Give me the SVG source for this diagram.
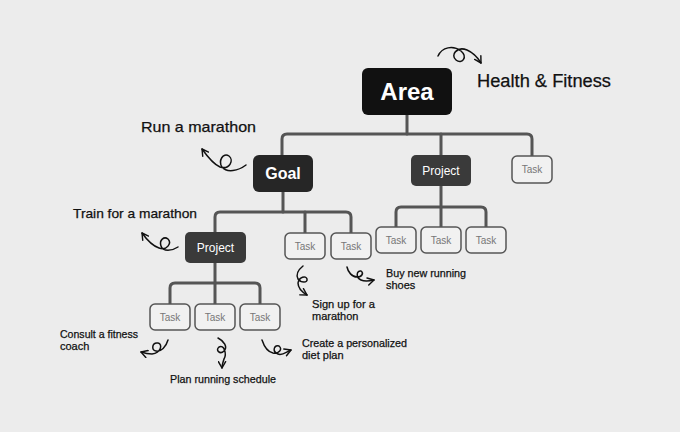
<svg xmlns="http://www.w3.org/2000/svg" width="680" height="432" viewBox="0 0 680 432">
<defs>
<marker id="ah" viewBox="0 0 10 10" refX="8" refY="5" markerWidth="9" markerHeight="9" markerUnits="userSpaceOnUse" orient="auto">
<path d="M1,1 L8,5 L1,9" fill="none" stroke="#111" stroke-width="1.6" stroke-linecap="round" stroke-linejoin="round"/>
</marker>
<style>
.conn{fill:none;stroke:#555;stroke-width:3;stroke-linecap:round;stroke-linejoin:round}
.task rect{fill:#f1f1f1;stroke:#555;stroke-width:1.5}
.task text{font-family:"Liberation Sans",Arial,sans-serif;font-size:10px;fill:#777;text-anchor:middle}
.proj rect{fill:#3a3a3a}
.proj text{font-family:"Liberation Sans",Arial,sans-serif;font-size:12px;fill:#fff;text-anchor:middle}
.lbl{font-family:"Liberation Sans",Arial,sans-serif;fill:#111;stroke:#111;stroke-width:0.25}
.sw{fill:none;stroke:#111;stroke-width:1.5;stroke-linecap:round;marker-end:url(#ah)}
</style>
</defs>
<rect width="680" height="432" fill="#ececec"/>

<g id="connectors">
<path class="conn" d="M407,115 V134"/>
<path class="conn" d="M282,155 V139 Q282,134 287,134 H527 Q532,134 532,139 V156"/>
<path class="conn" d="M441,134 V155"/>
<path class="conn" d="M283,192 V212"/>
<path class="conn" d="M215,232 V217 Q215,212 220,212 H346 Q351,212 351,217 V233"/>
<path class="conn" d="M305,212 V233"/>
<path class="conn" d="M441,186 V207"/>
<path class="conn" d="M396,227 V212 Q396,207 401,207 H481 Q486,207 486,212 V227"/>
<path class="conn" d="M441,207 V227"/>
<path class="conn" d="M215,263 V283"/>
<path class="conn" d="M170,304 V288 Q170,283 175,283 H255 Q260,283 260,288 V304"/>
<path class="conn" d="M215,283 V304"/>
</g>

<g id="area">
<rect x="362" y="68" width="90" height="47" rx="6" fill="#111"/>
<text x="407" y="100" font-family="Liberation Sans,Arial,sans-serif" font-size="24" font-weight="bold" fill="#fff" text-anchor="middle">Area</text>
</g>
<g id="goal">
<rect x="253" y="155" width="60" height="37" rx="6" fill="#262626"/>
<text x="283" y="179" font-family="Liberation Sans,Arial,sans-serif" font-size="16" font-weight="bold" fill="#fff" text-anchor="middle">Goal</text>
</g>
<g id="project-right" class="proj">
<rect x="411" y="155" width="60" height="31" rx="5"/>
<text x="441" y="175">Project</text>
</g>
<g id="task-area" class="task">
<rect x="512" y="156" width="40" height="27" rx="5"/>
<text x="532" y="173">Task</text>
</g>
<g id="task-r1" class="task"><rect x="376" y="227" width="40" height="26" rx="5"/><text x="396" y="244">Task</text></g>
<g id="task-r2" class="task"><rect x="421" y="227" width="40" height="26" rx="5"/><text x="441" y="244">Task</text></g>
<g id="task-r3" class="task"><rect x="466" y="227" width="40" height="26" rx="5"/><text x="486" y="244">Task</text></g>
<g id="project-left" class="proj">
<rect x="185" y="232" width="61" height="31" rx="5"/>
<text x="215.5" y="252">Project</text>
</g>
<g id="task-g1" class="task"><rect x="285" y="233" width="40" height="26" rx="5"/><text x="305" y="250">Task</text></g>
<g id="task-g2" class="task"><rect x="331" y="233" width="40" height="26" rx="5"/><text x="351" y="250">Task</text></g>
<g id="task-l1" class="task"><rect x="150" y="304" width="40" height="26" rx="5"/><text x="170" y="321">Task</text></g>
<g id="task-l2" class="task"><rect x="195" y="304" width="40" height="26" rx="5"/><text x="215" y="321">Task</text></g>
<g id="task-l3" class="task"><rect x="240" y="304" width="40" height="26" rx="5"/><text x="260" y="321">Task</text></g>

<g id="labels">
<text class="lbl" x="477" y="87" font-size="18" textLength="134" lengthAdjust="spacingAndGlyphs">Health &amp; Fitness</text>
<text class="lbl" x="141" y="132" font-size="15" textLength="115" lengthAdjust="spacingAndGlyphs">Run a marathon</text>
<text class="lbl" x="73" y="218" font-size="13" textLength="124" lengthAdjust="spacingAndGlyphs">Train for a marathon</text>
<text class="lbl" x="312" y="308" font-size="11" textLength="63" lengthAdjust="spacingAndGlyphs">Sign up for a</text>
<text class="lbl" x="312" y="320" font-size="11">marathon</text>
<text class="lbl" x="386" y="277" font-size="11" textLength="80" lengthAdjust="spacingAndGlyphs">Buy new running</text>
<text class="lbl" x="386" y="289" font-size="11">shoes</text>
<text class="lbl" x="60" y="338" font-size="11" textLength="78" lengthAdjust="spacingAndGlyphs">Consult a fitness</text>
<text class="lbl" x="60" y="350" font-size="11">coach</text>
<text class="lbl" x="170" y="383" font-size="11" textLength="106" lengthAdjust="spacingAndGlyphs">Plan running schedule</text>
<text class="lbl" x="302" y="347" font-size="11" textLength="105" lengthAdjust="spacingAndGlyphs">Create a personalized</text>
<text class="lbl" x="302" y="359" font-size="11">diet plan</text>
</g>

<g id="swirls">
<path class="sw" d="M438,56 C442,47 453,45 461,51 C468,57 462,65 456,60 C450,55 457,46 467,50 C474,53 478,58 481,63"/>
<path class="sw" d="M246,165 C238,171 227,173 222,167 C218,161 223,152 229,156 C234,160 230,170 220,167 C213,164 207,156 202,149"/>
<path class="sw" d="M178,247 C172,251 163,252 161,246 C159,240 164,236 168,239 C172,243 167,251 159,248 C153,246 147,240 142,233"/>
<path class="sw" d="M168,340 C166,347 161,352 156,351 C151,350 152,342 158,343 C163,344 161,353 152,354 C148,354 144,353 141,352"/>
<path class="sw" d="M218,338 C224,341 228,347 224,351 C220,355 215,350 219,347 C224,344 227,354 224,359 C223,362 222,365 222,368"/>
<path class="sw" d="M262,340 C264,346 268,352 273,353 C279,354 283,349 279,346 C275,344 271,351 278,354 C282,356 286,352 291,350"/>
<path class="sw" d="M303,266 C298,270 296,275 298,279 C301,283 308,283 307,279 C306,275 299,277 298,283 C298,288 302,292 307,295"/>
<path class="sw" d="M347,267 C348,272 352,277 357,277 C362,277 364,273 361,271 C357,270 355,277 361,280 C365,282 370,281 374,280"/>
</g>
</svg>
